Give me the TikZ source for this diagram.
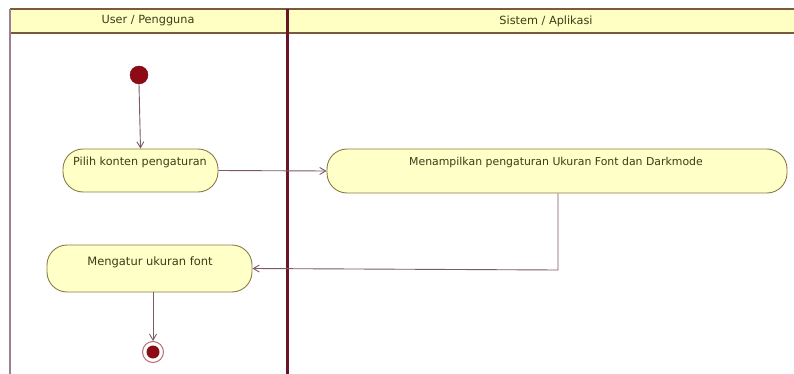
\documentclass[tikz,border=0pt]{standalone}
\usepackage{fontspec}
\setmainfont{DejaVu Sans}
\usetikzlibrary{arrows.meta,positioning}

\definecolor{laneYellow}{HTML}{FFFFC4}
\definecolor{laneEdge}{HTML}{7A5A3A}
\definecolor{laneDivider}{HTML}{6A1426}
\definecolor{laneSide}{HTML}{9A8090}
\definecolor{actFill}{HTML}{FFFFC8}
\definecolor{actEdge}{HTML}{8A7A44}
\definecolor{flowLine}{HTML}{7A5A66}
\definecolor{nodeRed}{HTML}{8E0A14}
\definecolor{txtDark}{HTML}{3C3C18}

\tikzset{
  x=1pt, y=-1pt,
  lanehead/.style={font=\fontsize{11.3}{12}\selectfont, text=txtDark},
  action/.style={draw=actEdge, line width=0.9pt, fill=actFill,
    rounded corners=20pt, inner sep=0pt},
  actlabel/.style={text=txtDark, inner sep=0pt},
  flow/.style={draw=flowLine, line width=0.9pt,
    -{Straight Barb[length=6pt,width=7pt]}},
  startnode/.style={circle, fill=nodeRed, draw=nodeRed!80!black,
    minimum size=18pt, inner sep=0pt},
}

\begin{document}
\begin{tikzpicture}
\useasboundingbox (0,0) rectangle (794,374);
\fill[white] (0,0) rectangle (794,374);

% swimlane headers
\fill[laneYellow] (10,9) rectangle (794,33);
\draw[laneEdge, line width=1.6pt] (10,9) -- (794,9);
\draw[laneEdge, line width=1.6pt] (10,33) -- (794,33);
\draw[laneSide, line width=2pt] (10,9) -- (10,374);
\draw[laneDivider, line width=3pt] (287,9) -- (287,374);
\node[lanehead] (laneUser) at (148,21) {User / Pengguna};
\node[lanehead] (laneSys) at (546,21) {Sistem / Aplikasi};

% activities
\node[startnode] (start) at (139,75) {};

\node[action, minimum width=155pt, minimum height=43pt] (pilih) at (140.5,170.5) {};
\node[actlabel, font=\fontsize{11.2}{12}\selectfont] (pilihTxt) at (140,162) {Pilih konten pengaturan};

\node[action, minimum width=460pt, minimum height=44pt] (tampil) at (557,171) {};
\node[actlabel, font=\fontsize{10.9}{12}\selectfont] (tampilTxt) at (556,162) {Menampilkan pengaturan Ukuran Font dan Darkmode};

\node[action, minimum width=205pt, minimum height=47pt] (atur) at (149.5,268.5) {};
\node[actlabel, font=\fontsize{11.5}{12}\selectfont] (aturTxt) at (150,262) {Mengatur ukuran font};

% final node
\node[circle, draw=nodeRed!60!white, line width=1pt, fill=white,
      minimum size=21pt, inner sep=0pt] (end) at (153,352) {};
\node[circle, fill=nodeRed, minimum size=13pt, inner sep=0pt] (endDot) at (end.center) {};

% control flows
\draw[flow] (start.south) -- (pilih.north);
\draw[flow] (pilih.east) -- (tampil.west);
\coordinate (bend) at (558,270);
\draw[flow] (tampil.south -| bend) -- (bend) -- (atur.east);
\draw[flow] (atur.south -| end) -- (end.north);
\end{tikzpicture}
\end{document}
